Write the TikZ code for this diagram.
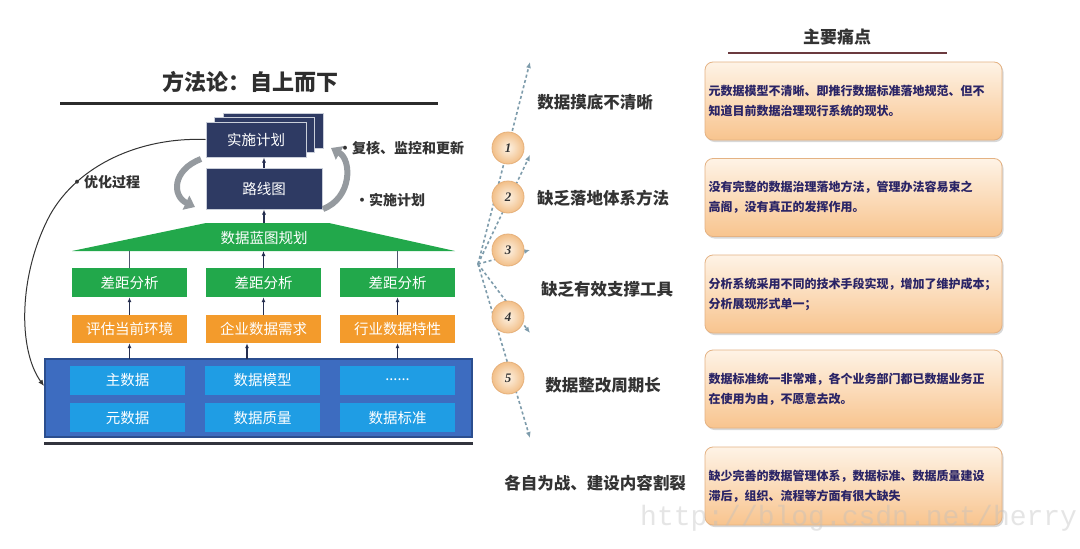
\documentclass[tikz,border=0pt]{standalone}
\usepackage{fontspec}
\setmainfont{Noto Sans CJK SC}
\newfontfamily\numfont{Liberation Serif}
\newfontfamily\wmfont{Liberation Mono}
\usetikzlibrary{arrows.meta,shadows,calc}
\definecolor{navy}{HTML}{2E3A63}
\definecolor{navyborder}{HTML}{C9CED9}
\definecolor{grn}{HTML}{22A84B}
\definecolor{org}{HTML}{F39B2C}
\definecolor{bigblue}{HTML}{3D6CC0}
\definecolor{bigblueborder}{HTML}{2B4E8F}
\definecolor{cellblue}{HTML}{1F9DE4}
\definecolor{txtgray}{HTML}{333333}
\definecolor{cycgray}{HTML}{959A9F}
\definecolor{dashcol}{HTML}{7E9CAC}
\definecolor{circin}{HTML}{FDF2E4}
\definecolor{circout}{HTML}{F2BF88}
\definecolor{circborder}{HTML}{E6B07A}
\definecolor{paintop}{HTML}{FEF3E6}
\definecolor{painbot}{HTML}{F8C48E}
\definecolor{painborder}{HTML}{E4B283}
\definecolor{paintxt}{HTML}{2A2466}
\definecolor{hdrline}{HTML}{6B3A3F}
\tikzset{
  boxfont/.style={font=\fontsize{14.5}{16}\selectfont},
  navybox/.style={rectangle, fill=navy, draw=navyborder, line width=1pt, text=white, boxfont, inner sep=0pt},
  greenbox/.style={rectangle, fill=grn, text=white, boxfont, minimum width=115pt, minimum height=29pt, inner sep=0pt},
  orangebox/.style={rectangle, fill=org, text=white, boxfont, minimum width=115pt, minimum height=28pt, inner sep=0pt},
  cellbox/.style={rectangle, fill=cellblue, text=white, boxfont, minimum width=115pt, minimum height=29pt, inner sep=0pt},
  uparr/.style={-{Latex[length=5pt,width=4pt]}, line width=1.3pt, draw=navy!80!black},
  plainline/.style={line width=1.3pt, draw=navy!60!gray},
  cyc/.style={-{Triangle[length=10pt,width=15pt]}, line width=6pt, draw=cycgray},
  label/.style={font=\bfseries\fontsize{14}{16}\selectfont, text=txtgray, inner sep=0pt},
  pain/.style={font=\bfseries\fontsize{16.5}{18}\selectfont, text=txtgray, inner sep=0pt},
  dasharr/.style={-{Latex[length=6pt,width=5pt]}, dashed, dash pattern=on 3pt off 2.5pt, line width=1.6pt, draw=dashcol},
  numcirc/.style={circle, minimum size=32pt, inner sep=0pt, inner color=circin, outer color=circout, draw=circborder, line width=0.8pt, font=\numfont\bfseries\itshape\fontsize{13}{13}\selectfont, text=txtgray},
  painbox/.style={rectangle, rounded corners=8pt, top color=paintop, bottom color=painbot, draw=painborder, line width=0.8pt, drop shadow={shadow xshift=1.5pt, shadow yshift=-2pt, opacity=0.3}, text width=290pt, inner xsep=3.5pt, minimum height=78pt, align=left, text=paintxt, font=\bfseries\fontsize{12}{20}\selectfont}
}
\begin{document}
\begin{tikzpicture}[x=1pt,y=-1pt]
\useasboundingbox (0,0) rectangle (1080,549);
\fill[white] (0,0) rectangle (1080,549);

% ---------- left: methodology ----------
\node[font=\bfseries\fontsize{22}{24}\selectfont, text=txtgray!90!black, inner sep=0pt] (title) at (250,82) {方法论：自上而下};
\draw[line width=3pt, draw=txtgray!85!black] (60,103) -- (438,103);

% stacked plan boxes
\node[navybox, minimum width=100pt, minimum height=35pt] (planb2) at (273,130.5) {};
\node[navybox, minimum width=100pt, minimum height=35pt] (planb1) at (264.5,135) {};
\node[navybox, minimum width=100pt, minimum height=35pt] (plan) at (256,139.5) {实施计划};
\node[navybox, minimum width=116pt, minimum height=41pt] (road) at (264,188.5) {路线图};
\draw[uparr] (road.north) -- (road.north |- plan.south);

% cycle arrows
\draw[cyc] (201,159) .. controls (172,170) and (172,196) .. (195,207);
\draw[cyc] (323,209) .. controls (352,198) and (352,160) .. (331,148);

\node[label, anchor=west] (lblrev) at (338,148) {·复核、监控和更新};
\node[label, anchor=west] (lblplan) at (355,200) {·实施计划};
\node[label, anchor=west] (lblopt) at (70,182) {·优化过程};

% trapezoid blueprint
\coordinate (tz1) at (206,223);
\coordinate (tz2) at (329,223);
\coordinate (tz3) at (455,251);
\coordinate (tz4) at (72,251);
\fill[grn] (tz1) -- (tz2) -- (tz3) -- (tz4) -- cycle;
\node[text=white, boxfont, inner sep=0pt] (bp) at (264,238) {数据蓝图规划};
\coordinate (bptop) at (264,223);
\draw[uparr] (bptop) -- (road.south);

% green boxes
\node[greenbox] (g1) at (129.5,282.5) {差距分析};
\node[greenbox] (g2) at (263.5,282.5) {差距分析};
\node[greenbox] (g3) at (397.5,282.5) {差距分析};
\draw[plainline] (g1.north) -- (g1.north |- tz4);
\draw[plainline] (g3.north) -- (g3.north |- tz4);
\draw[uparr] (g2.north) -- (g2.north |- tz4);

% orange boxes
\node[orangebox] (o1) at (129.5,329) {评估当前环境};
\node[orangebox] (o2) at (263.5,329) {企业数据需求};
\node[orangebox] (o3) at (397.5,329) {行业数据特性};
\draw[uparr] (o1.north) -- (g1.south);
\draw[uparr] (o2.north) -- (g2.south);
\draw[uparr] (o3.north) -- (g3.south);

% big blue box
\node[rectangle, fill=bigblue, draw=bigblueborder, line width=1.5pt, minimum width=427pt, minimum height=78pt, inner sep=0pt] (blue) at (258.5,398) {};
\node[cellbox] (c11) at (127.5,380) {主数据};
\node[cellbox] (c12) at (262.5,380) {数据模型};
\node[cellbox] (c13) at (397.5,380) {......};
\node[cellbox] (c21) at (127.5,417.5) {元数据};
\node[cellbox] (c22) at (262.5,417.5) {数据质量};
\node[cellbox] (c23) at (397.5,417.5) {数据标准};
\draw[line width=3pt, draw=txtgray!80!navy] (blue.south west |- 0,443) -- (blue.south east |- 0,443);

\coordinate (b1) at (129.5,359);
\coordinate (b2) at (247,359);
\coordinate (b3) at (397.5,359);
\draw[uparr] (b1) -- (o1.south);
\draw[uparr] (b2) -- (b2 |- o2.south);
\draw[uparr] (b3) -- (o3.south);

% optimisation loop
\coordinate (loopend) at (44,386);
\draw[-{Latex[length=6pt,width=5pt]}, line width=1pt, draw=txtgray] (plan.west) .. controls (140,137) and (78,165) .. (50,215) .. controls (18,275) and (18,350) .. (loopend);

% ---------- middle: pain points ----------
\coordinate (O) at (478,264);
\coordinate (t1) at (530,62);
\coordinate (t2) at (530,155);
\coordinate (t3) at (530,250);
\coordinate (t4) at (530,333);
\coordinate (t5) at (530,438);
\draw[dasharr] (O) -- (t1);
\draw[dasharr] (O) -- (t2);
\draw[dasharr] (O) -- (t3);
\draw[dasharr] (O) -- (t4);
\draw[dasharr] (O) -- (t5);

\node[numcirc] (n1) at (508,148) {1};
\node[numcirc] (n2) at (508,197) {2};
\node[numcirc] (n3) at (508,250) {3};
\node[numcirc] (n4) at (508,317) {4};
\node[numcirc] (n5) at (508,378) {5};

\node[pain] (pp1) at (595,102) {数据摸底不清晰};
\node[pain] (pp2) at (603,198) {缺乏落地体系方法};
\node[pain] (pp3) at (607,289) {缺乏有效支撑工具};
\node[pain] (pp4) at (603,385) {数据整改周期长};
\node[pain] (pp5) at (595,483) {各自为战、建设内容割裂};

% ---------- right: main pain points ----------
\node[font=\bfseries\fontsize{17}{18}\selectfont, text=txtgray, inner sep=0pt] (hdr) at (837,37) {主要痛点};
\draw[line width=2.5pt, draw=hdrline] (728,53) -- (947,53);

\node[painbox] (bx1) at (853.5,101) {元数据模型不清晰、即推行数据标准落地规范、但不\\知道目前数据治理现行系统的现状。};
\node[painbox] (bx2) at (853.5,197.5) {没有完整的数据治理落地方法，管理办法容易束之\\高阁，没有真正的发挥作用。};
\node[painbox] (bx3) at (853.5,294) {分析系统采用不同的技术手段实现，增加了维护成本；\\分析展现形式单一；};
\node[painbox] (bx4) at (853.5,389) {数据标准统一非常难，各个业务部门都已数据业务正\\在使用为由，不愿意去改。};
\node[painbox] (bx5) at (853.5,486) {缺少完善的数据管理体系，数据标准、数据质量建设\\滞后，组织、流程等方面有很大缺失};

% watermark
\node[anchor=base west, font=\wmfont\fontsize{28}{28}\selectfont, text=black!25, opacity=0.4, inner sep=0pt] (wm) at (640,525) {http://blog.csdn.net/herry};
\end{tikzpicture}
\end{document}
